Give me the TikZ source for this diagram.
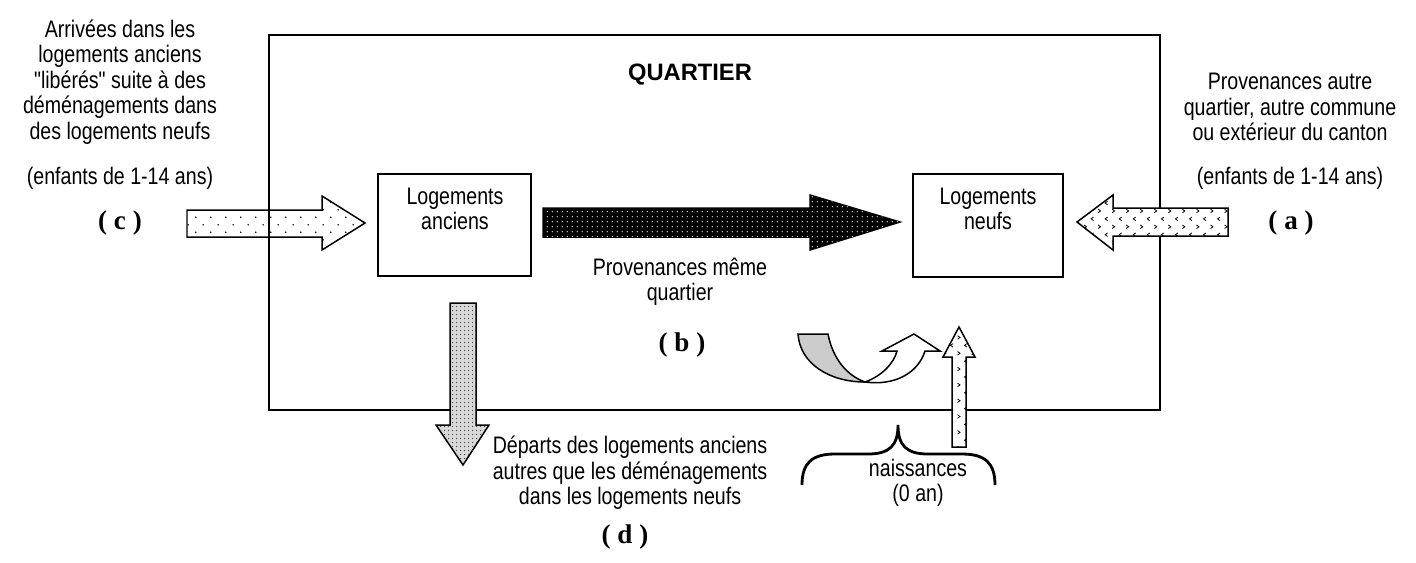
\documentclass[tikz,border=0pt]{standalone}
\usepackage{fontspec}
\setmainfont{Liberation Serif}
\newfontfamily\narrowfont[FakeStretch=0.82]{Liberation Sans}
\newfontfamily\headfont{Liberation Sans}
\usetikzlibrary{patterns}

% fill patterns of the block arrows
\pgfdeclarepatternformonly{sparsedots}{\pgfpointorigin}{\pgfpoint{8.5pt}{8.5pt}}{\pgfpoint{8.5pt}{8.5pt}}{%
  \pgfpathcircle{\pgfpoint{1pt}{1pt}}{0.45pt}
  \pgfpathcircle{\pgfpoint{5.25pt}{5.25pt}}{0.45pt}
  \pgfusepath{fill}}
\pgfdeclarepatternformonly{finedots}{\pgfpointorigin}{\pgfpoint{2.7pt}{2.7pt}}{\pgfpoint{2.7pt}{2.7pt}}{%
  \pgfpathcircle{\pgfpoint{1.35pt}{1.35pt}}{0.42pt}
  \pgfusepath{fill}}
\pgfdeclarepatternformonly{densedots}{\pgfpointorigin}{\pgfpoint{2pt}{2pt}}{\pgfpoint{2pt}{2pt}}{%
  \pgfpathcircle{\pgfpoint{1pt}{1pt}}{0.45pt}
  \pgfusepath{fill}}
\pgfdeclarepatternformonly{chevrons}{\pgfpoint{-0.5pt}{-0.5pt}}{\pgfpoint{8.5pt}{9.5pt}}{\pgfpoint{8pt}{9pt}}{%
  \pgfsetlinewidth{0.45pt}
  \pgfpathmoveto{\pgfpoint{1pt}{0.8pt}}
  \pgfpathlineto{\pgfpoint{2.4pt}{1.8pt}}
  \pgfpathlineto{\pgfpoint{1pt}{2.8pt}}
  \pgfpathmoveto{\pgfpoint{6.4pt}{5.3pt}}
  \pgfpathlineto{\pgfpoint{5pt}{6.3pt}}
  \pgfpathlineto{\pgfpoint{6.4pt}{7.3pt}}
  \pgfusepath{stroke}}

\begin{document}
\begin{tikzpicture}[x=0.02cm, y=-0.02cm,
    txt/.style={font=\narrowfont\fontsize{13.6}{14.5}\selectfont, align=center, inner sep=0pt},
    tag/.style={font=\bfseries\fontsize{15.4}{17}\selectfont, inner sep=0pt},
    room/.style={draw, line width=1.15pt, inner sep=0pt},
    blockarr/.style={draw, line width=0.85pt, line join=miter},
    sparse/.style={blockarr, fill=white, pattern=sparsedots},
    dark/.style={blockarr, fill=black, postaction={pattern=finedots, pattern color=white}},
    chev/.style={blockarr, fill=white, postaction={pattern=chevrons}},
    dense/.style={blockarr, fill=gray!30, postaction={pattern=densedots, pattern color=gray!60!black}}
  ]
    \useasboundingbox (0,0) rectangle (1416,562);

    % district and dwellings
    \node[room, minimum width=17.82cm, minimum height=7.5cm] (quartier) at (714.5,222.5) {};
    \node[font=\headfont\bfseries\fontsize{13.5}{15}\selectfont] (titre) at (690,75) {QUARTIER};
    \node[room, minimum width=3.06cm, minimum height=2.04cm] (anciens) at (454.5,225) {};
    \node[room, minimum width=3.0cm, minimum height=2.06cm] (neufs) at (988,225.5) {};
    \node[txt] (anciensT) at (455,209) {Logements\\anciens};
    \node[txt] (neufsT) at (988,209) {Logements\\neufs};

    % block arrows
    \filldraw[sparse] (187,210) -- (322,210) -- (322,196) -- (365,223) -- (322,250) -- (322,237) -- (187,237) -- cycle;
    \filldraw[dark] (543,208) -- (810,208) -- (810,195) -- (900,222) -- (810,250) -- (810,237) -- (543,237) -- cycle;
    \filldraw[chev] (1228,208) -- (1113,208) -- (1113,195) -- (1077,222) -- (1113,250) -- (1113,236) -- (1228,236) -- cycle;
    \filldraw[dense] (450,303) -- (450,425) -- (436,425) -- (463,465) -- (489,425) -- (476,425) -- (476,303) -- cycle;
    \filldraw[chev] (952,447) -- (952,357) -- (943,357) -- (959,327) -- (975,357) -- (966,357) -- (966,447) -- cycle;

    % u-turn arrow
    \filldraw[blockarr, fill=gray!40] (798,334) -- (828,334) .. controls (833,360) and (848,376) .. (865,382)
        .. controls (830,382) and (800,364) .. (798,334) -- cycle;
    \filldraw[blockarr, fill=white] (865,382) .. controls (882,376) and (894,363) .. (897,351) -- (882,351)
        -- (914,334) -- (940,351) -- (925,351) .. controls (918,373) and (895,386) .. (865,382) -- cycle;

    % brace below the births
    \draw[line width=1.6pt] (802,485) .. controls (802,463) and (812,454) .. (835,454) -- (868,454)
        .. controls (890,454) and (898,445) .. (898,425) .. controls (898,445) and (906,454) .. (928,454)
        -- (962,454) .. controls (985,454) and (995,463) .. (995,485);

    % labels
    \node[txt] (arrivees) at (120,82) {Arriv\'ees dans les\\logements anciens\\"lib\'er\'es" suite \`a des\\d\'em\'enagements dans\\des logements neufs};
    \node[txt] (enfantsG) at (120,178) {(enfants de 1-14 ans)};
    \node[tag] (c) at (120,223) {( c )};
    \node[txt] (provenances) at (1290,107) {Provenances autre\\quartier, autre commune\\ou ext\'erieur du canton};
    \node[txt] (enfantsD) at (1290,178) {(enfants de 1-14 ans)};
    \node[tag] (a) at (1291,223) {( a )};
    \node[txt] (meme) at (680,282) {Provenances m\^eme\\quartier};
    \node[tag] (b) at (682,345) {( b )};
    \node[txt] (departs) at (630,473) {D\'eparts des logements anciens\\autres que les d\'em\'enagements\\dans les logements neufs};
    \node[tag] (d) at (625,537) {( d )};
    \node[txt] (naissances) at (918,483) {naissances\\(0 an)};
  \end{tikzpicture}
\end{document}
